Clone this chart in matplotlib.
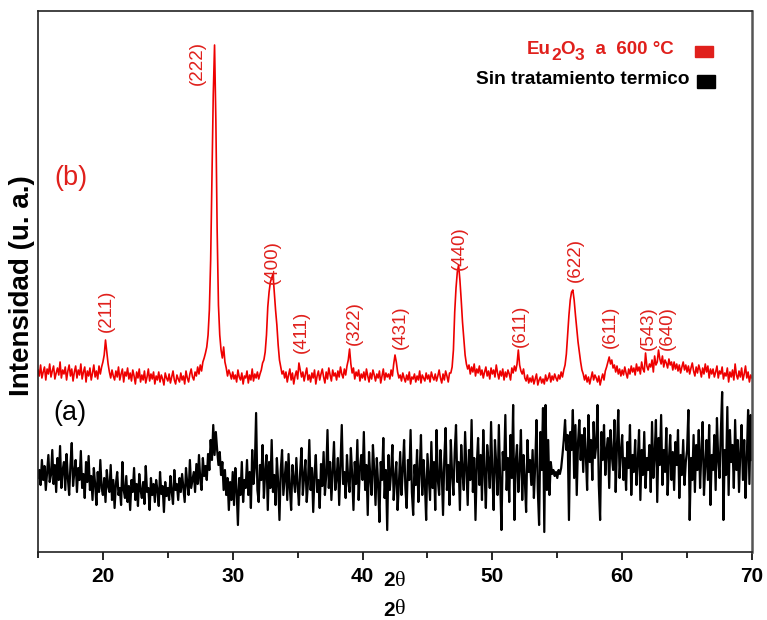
import numpy as np
import matplotlib
matplotlib.use("Agg")
import matplotlib.pyplot as plt
from matplotlib.patches import Rectangle

# 2-theta grid of both patterns (0.1 deg step)
two_theta = np.round(np.arange(150, 701) / 10.0, 1)

# (b) Eu2O3 annealed at 600 C, offset intensity (a.u.)
red_b = [
    180, 174, 185, 172, 178, 183, 170, 181, 176, 186,
    173, 179, 184, 171, 177, 182, 175, 188, 172, 180,
    176, 183, 170, 179, 185, 174, 181, 169, 178, 184,
    172, 180, 175, 186, 171, 178, 183, 168, 179, 174,
    182, 170, 177, 185, 173, 179, 171, 184, 176, 183,
    188, 195, 210, 198, 186, 178, 172, 180, 174, 170,
    179, 173, 183, 170, 176, 181, 168, 178, 174, 182,
    171, 177, 169, 180, 174, 166, 178, 172, 181, 168,
    175, 170, 179, 167, 173, 181, 169, 176, 171, 178,
    166, 174, 170, 178, 168, 175, 171, 165, 177, 172,
    169, 176, 167, 173, 179, 170, 166, 175, 171, 168,
    177, 170, 174, 166, 179, 172, 168, 176, 181, 173,
    170, 178, 174, 183, 176, 185, 179, 188, 192, 197,
    203, 215, 240, 290, 370, 455, 505, 430, 320, 245,
    215, 200, 192, 203, 188, 182, 174, 180, 176, 171,
    178, 171, 175, 168, 180, 173, 170, 177, 166, 174,
    172, 179, 167, 175, 170, 181, 169, 176, 172, 178,
    171, 176, 180, 187, 190, 198, 215, 243, 258, 268,
    272, 276, 258, 240, 225, 205, 190, 183, 176, 179,
    172, 178, 168, 175, 181, 170, 177, 166, 174, 179,
    171, 187, 180, 173, 178, 169, 176, 182, 170, 175,
    168, 177, 172, 180, 166, 174, 179, 170, 176, 181,
    173, 167, 178, 171, 182, 175, 169, 180, 174, 177,
    170, 179, 173, 183, 176, 172, 181, 175, 184, 190,
    201, 186, 177, 182, 171, 178, 174, 180, 169, 176,
    172, 178, 170, 181, 174, 168, 177, 171, 180, 175,
    169, 176, 172, 179, 167, 174, 181, 170, 177, 173,
    176, 171, 180, 174, 186, 195, 188, 178, 172, 175,
    169, 177, 172, 168, 175, 170, 178, 166, 173, 171,
    176, 168, 174, 170, 179, 167, 175, 172, 169, 177,
    171, 175, 168, 178, 173, 170, 176, 169, 174, 180,
    172, 167, 176, 170, 179, 174, 168, 177, 177, 183,
    200, 238, 262, 278, 285, 270, 250, 228, 212, 195,
    186, 181, 185, 176, 183, 178, 186, 174, 181, 177,
    184, 175, 180, 172, 178, 183, 174, 179, 171, 182,
    176, 180, 173, 185, 177, 171, 179, 174, 181, 170,
    178, 173, 180, 176, 170, 182, 177, 184, 179, 186,
    200, 185, 179, 176, 181, 172, 169, 175, 167, 172,
    168, 174, 166, 171, 176, 165, 170, 173, 167, 171,
    166, 175, 169, 172, 177, 168, 174, 170, 176, 172,
    169, 175, 171, 178, 173, 180, 185, 196, 215, 235,
    250, 258, 260, 250, 235, 222, 208, 198, 188, 180,
    176, 170, 175, 168, 173, 166, 172, 178, 170, 175,
    172, 168, 174, 165, 171, 176, 170, 179, 183, 188,
    193, 186, 190, 182, 185, 178, 184, 176, 181, 174,
    180, 175, 183, 177, 172, 181, 176, 184, 178, 182,
    175, 186, 179, 183, 176, 188, 181, 178, 197, 184,
    180, 186, 183, 190, 178, 194, 185, 188, 200, 191,
    186, 194, 183, 190, 187, 182, 191, 185, 188, 180,
    188, 181, 186, 179, 185, 177, 183, 188, 180, 185,
    178, 184, 176, 182, 187, 179, 174, 183, 177, 185,
    180, 173, 182, 176, 186, 178, 184, 172, 181, 176,
    181, 173, 178, 184, 172, 179, 176, 183, 171, 177,
    174, 182, 168, 178, 173, 180, 170, 186, 175, 171,
    179, 173, 182, 170, 176, 184, 172, 178, 168, 175,
    172,
]

# (a) untreated sample, intensity (a.u.)
black_a = [
    72, 80, 65, 90, 70, 84, 60, 78, 95, 68,
    75, 100, 66, 85, 58, 92, 70, 104, 62, 80,
    88, 60, 96, 72, 55, 85, 107, 64, 78, 90,
    58, 82, 70, 99, 62, 76, 52, 88, 68, 94,
    60, 74, 50, 82, 66, 45, 78, 58, 90, 62,
    55, 72, 48, 80, 64, 58, 85, 50, 70, 42,
    66, 78, 55, 62, 45, 88, 60, 52, 74, 48,
    64, 40, 70, 58, 82, 50, 66, 44, 76, 60,
    52, 68, 46, 84, 58, 62, 40, 72, 55, 66,
    48, 70, 60, 44, 78, 56, 64, 38, 68, 54,
    62, 50, 74, 58, 46, 80, 60, 66, 50, 72,
    58, 76, 62, 48, 82, 66, 55, 90, 62, 70,
    78, 58, 86, 66, 95, 70, 60, 92, 74, 84,
    70, 96, 80, 110, 90, 125, 95, 118, 100, 85,
    98, 75, 88, 60, 80, 55, 72, 40, 68, 50,
    78, 45, 82, 60, 25, 72, 55, 88, 48, 70,
    62, 90, 55, 78, 42, 100, 66, 82, 137, 60,
    48, 85, 70, 105, 52, 78, 95, 40, 88, 62,
    110, 58, 75, 45, 92, 68, 30, 80, 100, 55,
    72, 88, 50, 96, 62, 40, 85, 70, 58, 92,
    65, 45, 80, 102, 55, 74, 90, 48, 68, 110,
    60, 82, 38, 76, 95, 58, 70, 42, 86, 64,
    98, 55, 75, 120, 62, 88, 50, 80, 108, 60,
    72, 92, 45, 85, 125, 66, 78, 52, 95, 70,
    58, 102, 75, 40, 88, 66, 110, 50, 82, 95,
    70, 118, 60, 85, 35, 98, 72, 55, 105, 80,
    45, 92, 66, 28, 88, 70, 112, 52, 80, 20,
    95, 60, 78, 105, 50, 72, 88, 40, 66, 98,
    55, 80, 110, 62, 42, 90, 70, 120, 58, 35,
    85, 65, 100, 48, 78, 115, 55, 90, 68, 30,
    96, 72, 50, 108, 62, 88, 40, 120, 70, 55,
    100, 78, 35, 92, 122, 60, 85, 45, 110, 75,
    55, 98, 125, 68, 88, 40, 105, 78, 60, 118,
    82, 45, 100, 70, 130, 58, 92, 30, 85, 112,
    65, 95, 50, 120, 78, 42, 105, 88, 62, 128,
    75, 40, 110, 85, 55, 125, 70, 20, 98, 80,
    135, 60, 92, 48, 115, 72, 145, 30, 88, 105,
    58, 82, 120, 50, 95, 70, 38, 110, 78, 90,
    65, 100, 52, 85, 130, 60, 25, 118, 80, 142,
    18, 145, 60, 110, 55, 88, 76, 80, 74, 78,
    72, 80, 76, 82, 95, 110, 130, 100, 115, 30,
    118, 100, 140, 72, 125, 55, 108, 130, 90, 115,
    78, 122, 95, 60, 135, 88, 110, 70, 128, 92,
    105, 145, 65, 30, 118, 90, 125, 75, 100, 112,
    62, 120, 95, 80, 130, 58, 105, 140, 72, 98,
    115, 70, 92, 60, 108, 82, 125, 55, 95, 78,
    110, 65, 88, 120, 50, 100, 75, 118, 62, 92,
    80, 105, 58, 128, 72, 95, 130, 48, 112, 85,
    135, 65, 100, 78, 122, 55, 90, 115, 70, 98,
    60, 108, 85, 120, 52, 95, 75, 110, 65, 88,
    100, 140, 30, 92, 70, 115, 58, 105, 80, 120,
    62, 98, 128, 55, 85, 110, 70, 125, 45, 95,
    80, 115, 60, 132, 90, 72, 118, 158, 30, 100,
    75, 143, 55, 120, 88, 105, 62, 130, 80, 110,
    58, 98, 125, 70, 110, 52, 92, 140, 66, 135,
    90,
]

# Miller indices of the cubic Eu2O3 reflections and their label anchors
hkl_labels = ["(211)", "(222)", "(400)", "(411)", "(322)", "(431)",
              "(440)", "(611)", "(622)", "(611)", "(543)", "(640)"]
hkl_x = [20.24, 27.25, 33.03, 35.26, 39.35, 42.89,
         47.43, 52.13, 56.37, 59.07, 62.0, 63.46]
hkl_y = [239, 487, 288, 218, 227, 223, 302, 224, 290, 223, 222, 222]

x_ticks = [20, 30, 40, 50, 60, 70]

RED = "#ee0000"
RED_TXT = "#e0201c"
W, H = 767, 620
SANS = "Liberation Sans"


def fx(px):
    return px / W


def fy(py):
    return 1 - py / H


fig = plt.figure(figsize=(W / 100, H / 100), dpi=100)
ax = fig.add_axes([fx(38), fy(552), (752 - 38) / W, (552 - 11) / H])

ax.plot(two_theta, red_b, color=RED, lw=1.2)
ax.plot(two_theta, black_a, color="black", lw=1.6)

ax.set_xlim(15, 70)
ax.set_ylim(-2, 539)

ax.set_xticks(x_ticks)
ax.set_xticks(np.arange(15, 71, 10), minor=True)
ax.tick_params(axis="x", which="major", direction="out", length=6, width=1.2,
               labelsize=15, pad=5)
ax.tick_params(axis="x", which="minor", direction="out", length=4, width=1.2)
for lab in ax.get_xticklabels():
    lab.set_fontweight("bold")
    lab.set_family(SANS)
ax.set_yticks([])

for side in ["left", "bottom", "top"]:
    ax.spines[side].set_color("#222222")
    ax.spines[side].set_linewidth(1.2)
ax.spines["right"].set_color("#555555")
ax.spines["right"].set_linewidth(1.8)

for lab, xx, yy in zip(hkl_labels, hkl_x, hkl_y):
    ax.text(xx, yy, lab, rotation=90, ha="center", va="center",
            color=RED_TXT, fontsize=13.5, family=SANS)

fig.text(fx(71), fy(178), "(b)", color=RED_TXT, fontsize=19.5, ha="center",
         va="center", family=SANS)
fig.text(fx(70), fy(413), "(a)", color="black", fontsize=19.5, ha="center",
         va="center", family=SANS)

# Sample key: formula with near full-size lowered subscripts
fig.canvas.draw()
renderer = fig.canvas.get_renderer()
pieces = [("Eu", 0), ("2", 6), ("O", 0), ("3", 6), ("  a  600 °C", 0)]
cur = 527
for txt, drop in pieces:
    t = fig.text(fx(cur), fy(50 + drop), txt, color=RED_TXT,
                 fontsize=13.5 if drop == 0 else 12.5, fontweight="bold",
                 ha="left", va="center", family=SANS)
    cur += t.get_window_extent(renderer).width
fig.text(fx(689), fy(80), "Sin tratamiento termico", color="black",
         fontsize=13.8, fontweight="bold", ha="right", va="center",
         family=SANS)
fig.patches.append(Rectangle((fx(695), fy(57)), 18 / W, 11 / H,
                             transform=fig.transFigure, color=RED_TXT))
fig.patches.append(Rectangle((fx(697), fy(88)), 18 / W, 13 / H,
                             transform=fig.transFigure, color="black"))

# Axis titles
fig.text(fx(22), fy(286), "Intensidad (u. a.)", rotation=90,
         fontsize=20, fontweight="bold", ha="center", va="center",
         family=SANS)
for yy in (581, 610):
    fig.text(fx(395), fy(yy), "2", fontsize=15, fontweight="bold",
             ha="right", va="center", family=SANS)
    fig.text(fx(395), fy(yy), "θ", fontsize=16, ha="left",
             va="center", family="Liberation Serif")

fig.savefig("out.png", dpi=100)
